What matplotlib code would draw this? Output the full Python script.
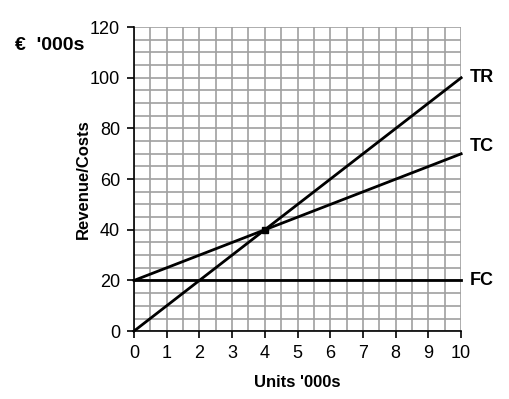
import matplotlib
matplotlib.use("Agg")
import matplotlib.pyplot as plt
import numpy as np

plt.rcParams['font.family'] = ['Liberation Sans', 'DejaVu Sans']

units = [0, 10]
tr = [0, 100]
tc = [20, 70]
fc = [20, 20]
break_even = (4, 40)

fig = plt.figure(figsize=(5.09, 3.99), dpi=100)
ax = fig.add_axes([0.263, 0.170, 0.643, 0.762])
ax.set_xlim(0, 10)
ax.set_ylim(0, 120)
ax.set_xticks(range(0, 11))
ax.set_yticks(range(0, 121, 20))
ax.set_xticks(np.arange(0, 10.01, 0.5), minor=True)
ax.set_yticks(range(0, 121, 5), minor=True)
ax.grid(True, which='both', color='#a0a0a0', linewidth=1.2)
ax.set_axisbelow(True)
ax.tick_params(which='minor', length=0)
ax.tick_params(which='major', direction='out', length=5, width=1.2, labelsize=13, colors='black', pad=5)
for s in ['top', 'right']:
    ax.spines[s].set_visible(False)
for s in ['left', 'bottom']:
    ax.spines[s].set_linewidth(1.2)
    ax.spines[s].set_zorder(5)

ax.plot(units, tr, color='black', lw=2, clip_on=False, zorder=4)
ax.plot(units, tc, color='black', lw=2, clip_on=False, zorder=4)
ax.plot(units, fc, color='black', lw=2, clip_on=False, zorder=4)
ax.plot([break_even[0]], [break_even[1]], marker='s', color='black', ms=5, zorder=6)

ax.text(10.25, tr[1], 'TR', fontsize=13, fontweight='bold', va='center', ha='left')
ax.text(10.25, tc[1] + 3, 'TC', fontsize=13, fontweight='bold', va='center', ha='left')
ax.text(10.25, fc[1], 'FC', fontsize=13, fontweight='bold', va='center', ha='left')

ax.set_xlabel("Units '000s", fontsize=12, fontweight='bold', labelpad=9)
ax.set_ylabel("Revenue/Costs", fontsize=12, fontweight='bold', va='center')
ax.yaxis.set_label_coords(-0.153, 0.5)
fig.text(0.03, 0.887, "€  '000s", fontsize=14, fontweight='bold', va='center', ha='left')

fig.savefig("out.png", dpi=100)
